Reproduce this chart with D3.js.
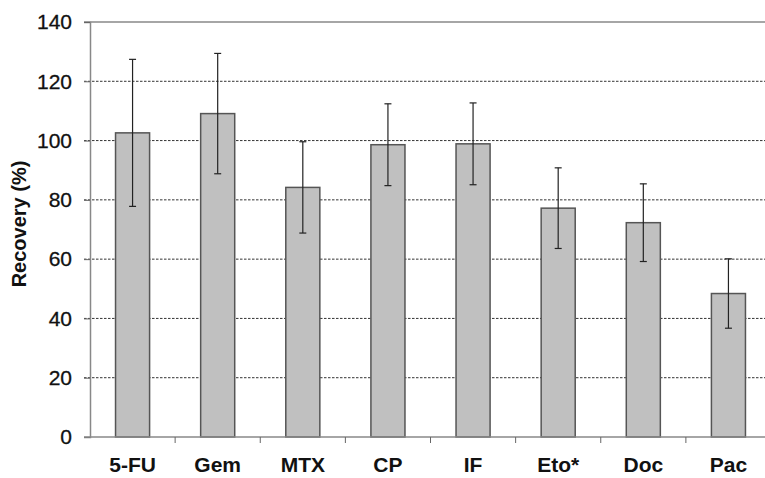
<!DOCTYPE html>
<html><head><meta charset="utf-8">
<script src="https://cdn.jsdelivr.net/npm/d3@7"></script>
<style>body{margin:0;background:#fff}svg{display:block}</style>
</head><body>
<svg id="c" width="765" height="478"></svg>
<script>
const categories = ["5-FU","Gem","MTX","CP","IF","Eto*","Doc","Pac"];
const recovery = [102.6,109.1,84.2,98.6,98.9,77.2,72.3,48.4];
const errorSD = [24.8,20.3,15.4,13.8,13.8,13.6,13.1,11.7];
const yTicks = [0,20,40,60,80,100,120,140];

const svg = d3.select("#c");
const L = 90, R = 771, T = 22, B = 437;
const x = d3.scaleBand().domain(categories).range([L,R]).paddingInner(0.6).paddingOuter(0.3);
const xb = d3.scaleBand().domain(categories).range([L,R]).padding(0);
const y = d3.scaleLinear().domain([0,140]).range([B,T]);
const font = "'Liberation Sans', Arial, sans-serif";

// gridlines
svg.append("g").selectAll("line").data(yTicks.filter(v=>v>0&&v<140)).join("line")
  .attr("x1",L-6).attr("x2",R).attr("y1",d=>y(d)).attr("y2",d=>y(d))
  .attr("stroke","#333").attr("stroke-width",1).attr("stroke-dasharray","2.5,1.5");
// top border line
svg.append("line").attr("x1",L-6).attr("x2",R).attr("y1",y(140)).attr("y2",y(140))
  .attr("stroke","#888").attr("stroke-width",1.5);

// y axis
const ya = svg.append("g").attr("transform",`translate(${L},0)`)
  .call(d3.axisLeft(y).tickValues(yTicks).tickSize(6).tickPadding(12));
ya.select(".domain").attr("stroke","#888").attr("stroke-width",1.5);
ya.selectAll(".tick line").attr("stroke","#666");
ya.selectAll("text").attr("font-family",font).attr("font-size",21).attr("fill","#111")
  .attr("stroke","#111").attr("stroke-width",0.3);

// bars
svg.append("g").selectAll("rect").data(categories).join("rect")
  .attr("x",d=>x(d)).attr("width",x.bandwidth())
  .attr("y",(d,i)=>y(recovery[i])).attr("height",(d,i)=>y(0)-y(recovery[i]))
  .attr("fill","#c0c0c0").attr("stroke","#555").attr("stroke-width",1.5);

// error bars
const eb = svg.append("g").attr("stroke","#222").attr("stroke-width",1.2);
categories.forEach((c,i)=>{
  const cx = x(c)+x.bandwidth()/2;
  const hi = y(recovery[i]+errorSD[i]), lo = y(recovery[i]-errorSD[i]);
  eb.append("line").attr("x1",cx).attr("x2",cx).attr("y1",hi).attr("y2",lo);
  eb.append("line").attr("x1",cx-3.5).attr("x2",cx+3.5).attr("y1",hi).attr("y2",hi);
  eb.append("line").attr("x1",cx-3.5).attr("x2",cx+3.5).attr("y1",lo).attr("y2",lo);
});

// x axis
svg.append("line").attr("x1",L-6).attr("x2",R).attr("y1",B).attr("y2",B)
  .attr("stroke","#888").attr("stroke-width",1.5);
svg.append("g").selectAll("line").data(categories.slice(1)).join("line")
  .attr("x1",d=>xb(d)).attr("x2",d=>xb(d)).attr("y1",B).attr("y2",B+6)
  .attr("stroke","#666");
svg.append("g").selectAll("text").data(categories).join("text")
  .attr("x",d=>x(d)+x.bandwidth()/2).attr("y",472)
  .attr("text-anchor","middle").attr("font-family",font).attr("font-weight","bold")
  .attr("font-size",21).attr("fill","#111").text(d=>d);

// y title
svg.append("text").attr("transform","translate(26,224) rotate(-90)")
  .attr("text-anchor","middle").attr("font-family",font).attr("font-weight","bold")
  .attr("font-size",20).attr("fill","#111").text("Recovery (%)");
</script>
</body></html>
